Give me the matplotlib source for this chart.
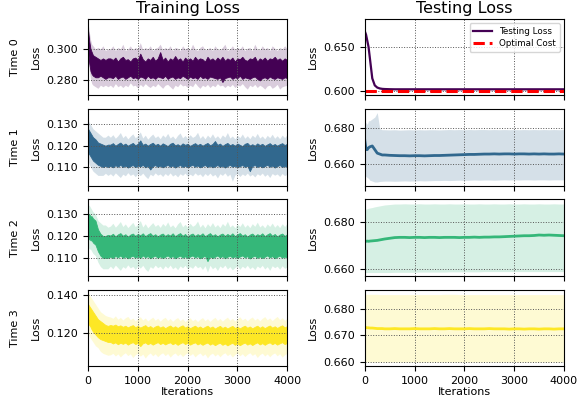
import numpy as np
import matplotlib
matplotlib.use("Agg")
import matplotlib.pyplot as plt
from matplotlib.ticker import FormatStrFormatter

# training loss is logged densely, testing loss on a coarser grid
train_iterations = [0, 25, 50, 75, 100, 150, 200, 250, 300, 350, 400,
                    450, 500, 550, 600, 650, 700, 750, 800, 850, 900,
                    950, 1000, 1050, 1100, 1150, 1200, 1250, 1300, 1350, 1400,
                    1450, 1500, 1550, 1600, 1650, 1700, 1750, 1800, 1850, 1900,
                    1950, 2000, 2050, 2100, 2150, 2200, 2250, 2300, 2350, 2400,
                    2450, 2500, 2550, 2600, 2650, 2700, 2750, 2800, 2850, 2900,
                    2950, 3000, 3050, 3100, 3150, 3200, 3250, 3300, 3350, 3400,
                    3450, 3500, 3550, 3600, 3650, 3700, 3750, 3800, 3850, 3900,
                    3950, 4000]
test_iterations = [0, 25, 50, 75, 100, 150, 200, 250, 300, 350, 400,
                   500, 600, 700, 800, 900, 1000, 1100, 1200, 1300, 1400,
                   1500, 1600, 1700, 1800, 1900, 2000, 2100, 2200, 2300, 2400,
                   2500, 2600, 2700, 2800, 2900, 3000, 3100, 3200, 3300, 3400,
                   3500, 3600, 3700, 3800, 3900, 4000]

# training loss: range of the raw per-iteration curve (dark) ...
train_line_hi = [
    [0.312, 0.305, 0.300, 0.298, 0.296, 0.295, 0.294, 0.293, 0.294, 0.293, 0.294,
     0.294, 0.293, 0.2945, 0.292, 0.294, 0.295, 0.293, 0.2935, 0.292, 0.294,
     0.2945, 0.293, 0.297, 0.2935, 0.292, 0.294, 0.293, 0.295, 0.2925, 0.294,
     0.298, 0.293, 0.2945, 0.292, 0.294, 0.293, 0.2955, 0.293, 0.294, 0.292,
     0.2945, 0.293, 0.294, 0.2925, 0.295, 0.293, 0.294, 0.2935, 0.292, 0.295,
     0.293, 0.294, 0.2925, 0.2945, 0.293, 0.295, 0.2925, 0.294, 0.293, 0.2945,
     0.292, 0.294, 0.2935, 0.295, 0.293, 0.2925, 0.294, 0.2935, 0.295, 0.292,
     0.294, 0.293, 0.2945, 0.2925, 0.294, 0.2935, 0.295, 0.293, 0.294, 0.2925,
     0.294, 0.293],
    [0.128, 0.127, 0.126, 0.125, 0.124, 0.123, 0.1215, 0.121, 0.1205, 0.120, 0.1205,
     0.1205, 0.1212, 0.1200, 0.1208, 0.1215, 0.1203, 0.1210, 0.1200, 0.1207, 0.1213,
     0.1202, 0.1209, 0.1225, 0.1204, 0.1210, 0.1200, 0.1208, 0.1214, 0.1203, 0.1209,
     0.1200, 0.1211, 0.1205, 0.1198, 0.1209, 0.1214, 0.1202, 0.1207, 0.1200, 0.1211,
     0.1204, 0.1209, 0.1199, 0.1206, 0.1212, 0.1203, 0.1209, 0.1200, 0.1207, 0.1213,
     0.1202, 0.1208, 0.1222, 0.1204, 0.1210, 0.1199, 0.1207, 0.1213, 0.1202, 0.1208,
     0.1200, 0.1210, 0.1204, 0.1198, 0.1209, 0.1213, 0.1201, 0.1207, 0.1200, 0.1211,
     0.1203, 0.1209, 0.1199, 0.1206, 0.1212, 0.1202, 0.1208, 0.1200, 0.1207, 0.1212,
     0.1203, 0.1209],
    [0.130, 0.130, 0.129, 0.129, 0.128, 0.127, 0.123, 0.121, 0.120, 0.120, 0.1205,
     0.1202, 0.1210, 0.1198, 0.1207, 0.1213, 0.1201, 0.1208, 0.1197, 0.1206, 0.1211,
     0.1200, 0.1209, 0.1203, 0.1212, 0.1199, 0.1207, 0.1213, 0.1201, 0.1208, 0.1198,
     0.1206, 0.1211, 0.1200, 0.1208, 0.1202, 0.1212, 0.1199, 0.1207, 0.1213, 0.1201,
     0.1209, 0.1197, 0.1206, 0.1211, 0.1200, 0.1208, 0.1203, 0.1212, 0.1199, 0.1206,
     0.1213, 0.1201, 0.1208, 0.1198, 0.1206, 0.1211, 0.1200, 0.1209, 0.1202, 0.1212,
     0.1199, 0.1207, 0.1213, 0.1201, 0.1208, 0.1197, 0.1206, 0.1211, 0.1200, 0.1208,
     0.1203, 0.1212, 0.1199, 0.1207, 0.1213, 0.1201, 0.1209, 0.1198, 0.1206, 0.1211,
     0.1200, 0.1208],
    [0.135, 0.134, 0.133, 0.132, 0.131, 0.129, 0.127, 0.126, 0.125, 0.124, 0.1235,
     0.1240, 0.1236, 0.1242, 0.1233, 0.1238, 0.1230, 0.1236, 0.1227, 0.1234, 0.1239,
     0.1228, 0.1235, 0.1226, 0.1233, 0.1239, 0.1227, 0.1234, 0.1224, 0.1232, 0.1237,
     0.1226, 0.1233, 0.1223, 0.1231, 0.1237, 0.1226, 0.1233, 0.1224, 0.1232, 0.1238,
     0.1226, 0.1233, 0.1223, 0.1230, 0.1236, 0.1225, 0.1232, 0.1222, 0.1230, 0.1236,
     0.1225, 0.1232, 0.1221, 0.1229, 0.1235, 0.1224, 0.1231, 0.1221, 0.1229, 0.1235,
     0.1224, 0.1231, 0.1222, 0.1230, 0.1236, 0.1225, 0.1232, 0.1222, 0.1230, 0.1236,
     0.1225, 0.1233, 0.1223, 0.1231, 0.1237, 0.1226, 0.1233, 0.1224, 0.1232, 0.1238,
     0.1227, 0.1234],
]
train_line_lo = [
    [0.300, 0.291, 0.286, 0.284, 0.283, 0.282, 0.282, 0.283, 0.282, 0.281, 0.282,
     0.282, 0.2815, 0.283, 0.281, 0.282, 0.2825, 0.281, 0.282, 0.283, 0.2815,
     0.282, 0.281, 0.2825, 0.282, 0.281, 0.283, 0.2815, 0.282, 0.281, 0.2825,
     0.282, 0.2815, 0.283, 0.281, 0.282, 0.2825, 0.281, 0.282, 0.2815, 0.283,
     0.282, 0.281, 0.2825, 0.2815, 0.282, 0.281, 0.283, 0.2815, 0.282, 0.281,
     0.2825, 0.282, 0.2815, 0.281, 0.282, 0.279, 0.2815, 0.282, 0.2825, 0.281,
     0.282, 0.2815, 0.283, 0.281, 0.282, 0.2815, 0.281, 0.282, 0.2825, 0.281,
     0.280, 0.2815, 0.282, 0.281, 0.2825, 0.2815, 0.281, 0.282, 0.2815, 0.281,
     0.282, 0.2815],
    [0.117, 0.116, 0.115, 0.114, 0.113, 0.112, 0.111, 0.1105, 0.110, 0.1105, 0.110,
     0.1105, 0.1098, 0.1108, 0.1101, 0.1110, 0.1100, 0.1106, 0.1097, 0.1104, 0.1109,
     0.1099, 0.1106, 0.1102, 0.1110, 0.1098, 0.1105, 0.1088, 0.1103, 0.1109, 0.1100,
     0.1106, 0.1098, 0.1104, 0.1110, 0.1101, 0.1107, 0.1097, 0.1104, 0.1109, 0.1100,
     0.1106, 0.1099, 0.1105, 0.1110, 0.1101, 0.1107, 0.1098, 0.1104, 0.1109, 0.1100,
     0.1106, 0.1098, 0.1103, 0.1109, 0.1100, 0.1106, 0.1097, 0.1104, 0.1110, 0.1101,
     0.1106, 0.1098, 0.1104, 0.1109, 0.1100, 0.1106, 0.1080, 0.1104, 0.1109, 0.1100,
     0.1106, 0.1098, 0.1104, 0.1110, 0.1101, 0.1106, 0.1097, 0.1104, 0.1109, 0.1100,
     0.1105, 0.1099],
    [0.118, 0.119, 0.118, 0.118, 0.117, 0.116, 0.113, 0.111, 0.110, 0.110, 0.110,
     0.1106, 0.1099, 0.1109, 0.1102, 0.1111, 0.1100, 0.1107, 0.1098, 0.1105, 0.1110,
     0.1101, 0.1107, 0.1099, 0.1111, 0.1103, 0.1108, 0.1098, 0.1105, 0.1110, 0.1100,
     0.1107, 0.1099, 0.1105, 0.1111, 0.1102, 0.1108, 0.1098, 0.1105, 0.1110, 0.1101,
     0.1107, 0.1099, 0.1106, 0.1111, 0.1102, 0.1108, 0.1098, 0.1104, 0.1110, 0.1085,
     0.1107, 0.1099, 0.1105, 0.1111, 0.1102, 0.1108, 0.1098, 0.1105, 0.1110, 0.1101,
     0.1107, 0.1099, 0.1106, 0.1111, 0.1102, 0.1108, 0.1097, 0.1105, 0.1110, 0.1100,
     0.1107, 0.1099, 0.1105, 0.1111, 0.1102, 0.1108, 0.1098, 0.1105, 0.1110, 0.1101,
     0.1106, 0.1100],
    [0.125, 0.124, 0.123, 0.1215, 0.1205, 0.119, 0.1175, 0.1165, 0.116, 0.1155, 0.115,
     0.1150, 0.1142, 0.1148, 0.1138, 0.1146, 0.1140, 0.1147, 0.1136, 0.1144, 0.1149,
     0.1139, 0.1145, 0.1128, 0.1143, 0.1148, 0.1138, 0.1145, 0.1136, 0.1143, 0.1149,
     0.1139, 0.1146, 0.1137, 0.1144, 0.1148, 0.1138, 0.1145, 0.1135, 0.1143, 0.1149,
     0.1139, 0.1146, 0.1136, 0.1143, 0.1148, 0.1137, 0.1144, 0.1135, 0.1142, 0.1147,
     0.1136, 0.1143, 0.1133, 0.1141, 0.1146, 0.1135, 0.1142, 0.1132, 0.1140, 0.1146,
     0.1135, 0.1142, 0.1133, 0.1141, 0.1147, 0.1136, 0.1143, 0.1134, 0.1142, 0.1148,
     0.1137, 0.1144, 0.1135, 0.1143, 0.1148, 0.1138, 0.1145, 0.1136, 0.1143, 0.1149,
     0.1139, 0.1145],
]
# ... and the spread band across runs (light)
train_band_hi = [
    [0.317, 0.311, 0.306, 0.303, 0.302, 0.300, 0.301, 0.300, 0.302, 0.299, 0.300,
     0.300, 0.302, 0.299, 0.301, 0.300, 0.303, 0.299, 0.300, 0.302, 0.2995,
     0.301, 0.300, 0.304, 0.2995, 0.301, 0.300, 0.302, 0.299, 0.3005, 0.301,
     0.303, 0.2995, 0.301, 0.300, 0.302, 0.299, 0.301, 0.3005, 0.299, 0.302,
     0.300, 0.301, 0.2995, 0.303, 0.300, 0.299, 0.301, 0.302, 0.2995, 0.300,
     0.301, 0.299, 0.302, 0.300, 0.2995, 0.301, 0.303, 0.299, 0.300, 0.302,
     0.2995, 0.301, 0.300, 0.302, 0.299, 0.3005, 0.301, 0.299, 0.303, 0.300,
     0.2995, 0.302, 0.300, 0.301, 0.299, 0.302, 0.3005, 0.299, 0.301, 0.300,
     0.302, 0.300],
    [0.132, 0.131, 0.130, 0.129, 0.128, 0.127, 0.126, 0.125, 0.124, 0.124, 0.125,
     0.1240, 0.1252, 0.1235, 0.1247, 0.1262, 0.1238, 0.1249, 0.1232, 0.1245, 0.1256,
     0.1237, 0.1248, 0.1265, 0.1236, 0.1250, 0.1231, 0.1244, 0.1255, 0.1238, 0.1247,
     0.1233, 0.1251, 0.1240, 0.1258, 0.1236, 0.1246, 0.1232, 0.1249, 0.1260, 0.1237,
     0.1248, 0.1234, 0.1252, 0.1239, 0.1246, 0.1263, 0.1235, 0.1248, 0.1232, 0.1250,
     0.1238, 0.1256, 0.1236, 0.1247, 0.1233, 0.1251, 0.1240, 0.1262, 0.1236, 0.1246,
     0.1232, 0.1249, 0.1238, 0.1255, 0.1235, 0.1247, 0.1233, 0.1250, 0.1239, 0.1258,
     0.1236, 0.1246, 0.1232, 0.1249, 0.1238, 0.1254, 0.1235, 0.1247, 0.1233, 0.1250,
     0.1238, 0.1252],
    [0.134, 0.134, 0.133, 0.132, 0.131, 0.130, 0.127, 0.126, 0.125, 0.125, 0.124,
     0.1245, 0.1258, 0.1240, 0.1252, 0.1266, 0.1243, 0.1255, 0.1238, 0.1250, 0.1262,
     0.1242, 0.1254, 0.1270, 0.1241, 0.1256, 0.1237, 0.1249, 0.1261, 0.1244, 0.1253,
     0.1239, 0.1257, 0.1245, 0.1264, 0.1241, 0.1251, 0.1237, 0.1255, 0.1266, 0.1242,
     0.1253, 0.1239, 0.1258, 0.1244, 0.1251, 0.1268, 0.1240, 0.1254, 0.1237, 0.1256,
     0.1243, 0.1261, 0.1241, 0.1252, 0.1238, 0.1257, 0.1245, 0.1267, 0.1241, 0.1251,
     0.1237, 0.1255, 0.1243, 0.1260, 0.1240, 0.1252, 0.1238, 0.1256, 0.1244, 0.1263,
     0.1241, 0.1251, 0.1237, 0.1255, 0.1243, 0.1259, 0.1240, 0.1252, 0.1238, 0.1256,
     0.1243, 0.1258],
    [0.142, 0.140, 0.139, 0.138, 0.137, 0.135, 0.133, 0.131, 0.130, 0.129, 0.1285,
     0.1282, 0.1275, 0.1288, 0.1270, 0.1280, 0.1266, 0.1278, 0.1285, 0.1268, 0.1276,
     0.1262, 0.1274, 0.1283, 0.1266, 0.1277, 0.1261, 0.1272, 0.1281, 0.1265, 0.1275,
     0.1260, 0.1273, 0.1280, 0.1264, 0.1274, 0.1259, 0.1271, 0.1279, 0.1263, 0.1273,
     0.1258, 0.1270, 0.1278, 0.1262, 0.1272, 0.1258, 0.1270, 0.1279, 0.1263, 0.1273,
     0.1259, 0.1271, 0.1280, 0.1264, 0.1274, 0.1260, 0.1272, 0.1281, 0.1265, 0.1275,
     0.1261, 0.1273, 0.1283, 0.1266, 0.1276, 0.1262, 0.1274, 0.1282, 0.1266, 0.1276,
     0.1262, 0.1275, 0.1284, 0.1267, 0.1277, 0.1263, 0.1275, 0.1285, 0.1268, 0.1278,
     0.1264, 0.1276],
]
train_band_lo = [
    [0.296, 0.287, 0.281, 0.278, 0.277, 0.276, 0.275, 0.277, 0.276, 0.277, 0.276,
     0.277, 0.2755, 0.278, 0.276, 0.277, 0.2755, 0.277, 0.276, 0.2785, 0.2765,
     0.277, 0.275, 0.2775, 0.276, 0.278, 0.2765, 0.2755, 0.277, 0.276, 0.278,
     0.2765, 0.275, 0.277, 0.2775, 0.276, 0.2745, 0.277, 0.276, 0.278, 0.2765,
     0.277, 0.2755, 0.277, 0.276, 0.2785, 0.2765, 0.275, 0.277, 0.276, 0.2775,
     0.2755, 0.277, 0.276, 0.278, 0.2765, 0.277, 0.2755, 0.277, 0.276, 0.2775,
     0.2755, 0.277, 0.2765, 0.278, 0.276, 0.2745, 0.277, 0.276, 0.2775, 0.2755,
     0.277, 0.276, 0.2745, 0.2765, 0.277, 0.275, 0.276, 0.2775, 0.2745, 0.276,
     0.2765, 0.277],
    [0.113, 0.111, 0.110, 0.109, 0.108, 0.107, 0.106, 0.106, 0.106, 0.107, 0.106,
     0.1068, 0.1057, 0.1072, 0.1061, 0.1050, 0.1066, 0.1058, 0.1073, 0.1060, 0.1067,
     0.1054, 0.1069, 0.1059, 0.1071, 0.1056, 0.1045, 0.1066, 0.1058, 0.1072, 0.1061,
     0.1067, 0.1055, 0.1069, 0.1059, 0.1072, 0.1057, 0.1065, 0.1053, 0.1068, 0.1060,
     0.1071, 0.1056, 0.1066, 0.1058, 0.1072, 0.1061, 0.1067, 0.1054, 0.1069, 0.1059,
     0.1071, 0.1057, 0.1065, 0.1048, 0.1068, 0.1060, 0.1072, 0.1056, 0.1066, 0.1032,
     0.1062, 0.1069, 0.1055, 0.1067, 0.1059, 0.1071, 0.1057, 0.1065, 0.1053, 0.1068,
     0.1060, 0.1071, 0.1056, 0.1066, 0.1050, 0.1069, 0.1061, 0.1067, 0.1055, 0.1069,
     0.1059, 0.1066],
    [0.115, 0.114, 0.114, 0.113, 0.112, 0.111, 0.108, 0.106, 0.105, 0.105, 0.105,
     0.1062, 0.1050, 0.1067, 0.1055, 0.1043, 0.1060, 0.1052, 0.1068, 0.1054, 0.1061,
     0.1047, 0.1064, 0.1053, 0.1066, 0.1049, 0.1038, 0.1060, 0.1052, 0.1067, 0.1055,
     0.1062, 0.1048, 0.1064, 0.1053, 0.1067, 0.1050, 0.1059, 0.1046, 0.1063, 0.1054,
     0.1066, 0.1049, 0.1060, 0.1052, 0.1067, 0.1055, 0.1061, 0.1047, 0.1064, 0.1035,
     0.1066, 0.1050, 0.1059, 0.1042, 0.1063, 0.1054, 0.1067, 0.1049, 0.1060, 0.1045,
     0.1056, 0.1064, 0.1048, 0.1062, 0.1053, 0.1066, 0.1050, 0.1059, 0.1046, 0.1063,
     0.1054, 0.1066, 0.1049, 0.1060, 0.1043, 0.1064, 0.1055, 0.1062, 0.1048, 0.1064,
     0.1052, 0.1060],
    [0.120, 0.118, 0.117, 0.116, 0.115, 0.113, 0.112, 0.110, 0.109, 0.1085, 0.108,
     0.1082, 0.1090, 0.1076, 0.1087, 0.1071, 0.1084, 0.1093, 0.1078, 0.1088, 0.1068,
     0.1083, 0.1091, 0.1075, 0.1086, 0.1065, 0.1082, 0.1092, 0.1077, 0.1088, 0.1072,
     0.1085, 0.1093, 0.1078, 0.1089, 0.1070, 0.1084, 0.1092, 0.1077, 0.1088, 0.1073,
     0.1085, 0.1093, 0.1079, 0.1089, 0.1071, 0.1084, 0.1092, 0.1077, 0.1087, 0.1066,
     0.1083, 0.1091, 0.1076, 0.1087, 0.1072, 0.1085, 0.1093, 0.1078, 0.1088, 0.1070,
     0.1084, 0.1092, 0.1077, 0.1088, 0.1073, 0.1085, 0.1093, 0.1079, 0.1088, 0.1068,
     0.1083, 0.1091, 0.1076, 0.1087, 0.1072, 0.1085, 0.1092, 0.1077, 0.1088, 0.1070,
     0.1083, 0.1090],
]

# testing loss: mean curve with its spread band
test_mean = [
    [0.668, 0.664, 0.657, 0.650, 0.638, 0.614, 0.606, 0.6035, 0.6025, 0.602, 0.6018,
     0.6016, 0.6015, 0.6015, 0.6015, 0.6015, 0.6015, 0.6015, 0.6015, 0.6015, 0.6015,
     0.6015, 0.6015, 0.6015, 0.6015, 0.6015, 0.6015, 0.6015, 0.6015, 0.6015, 0.6015,
     0.6015, 0.6015, 0.6015, 0.6015, 0.6015, 0.6015, 0.6015, 0.6015, 0.6015, 0.6015,
     0.6015, 0.6015, 0.6015, 0.6015, 0.6015, 0.6015],
    [0.673, 0.668, 0.668, 0.669, 0.6695, 0.670, 0.668, 0.666, 0.6655, 0.665, 0.665,
     0.6648, 0.6647, 0.6646, 0.6646, 0.6645, 0.6646, 0.6646, 0.6645, 0.6646, 0.6647,
     0.6647, 0.6648, 0.6649, 0.6650, 0.6651, 0.6652, 0.6653, 0.6653, 0.6654, 0.6655,
     0.6655, 0.6656, 0.6655, 0.6656, 0.6656, 0.6655, 0.6656, 0.6656, 0.6655, 0.6656,
     0.6655, 0.6656, 0.6655, 0.6655, 0.6656, 0.6655],
    [0.6718, 0.6718, 0.6719, 0.6718, 0.6719, 0.6720, 0.6721, 0.6722, 0.6724, 0.6726, 0.6728,
     0.6731, 0.6734, 0.6735, 0.6735, 0.6734, 0.6735, 0.6735, 0.6734, 0.6735, 0.6735,
     0.6734, 0.6735, 0.6735, 0.6735, 0.6734, 0.6735, 0.6735, 0.6736, 0.6735, 0.6736,
     0.6736, 0.6737, 0.6737, 0.6738, 0.6739, 0.6740, 0.6741, 0.6742, 0.6742, 0.6743,
     0.6745, 0.6744, 0.6745, 0.6744, 0.6743, 0.6742],
    [0.6731, 0.6730, 0.6729, 0.6729, 0.6728, 0.6728, 0.6727, 0.6726, 0.6726, 0.6726, 0.6725,
     0.6725, 0.6726, 0.6725, 0.6725, 0.6725, 0.6726, 0.6725, 0.6725, 0.6725, 0.6726,
     0.6725, 0.6725, 0.6726, 0.6725, 0.6725, 0.6725, 0.6726, 0.6725, 0.6725, 0.6725,
     0.6726, 0.6725, 0.6725, 0.6725, 0.6724, 0.6725, 0.6725, 0.6724, 0.6725, 0.6725,
     0.6724, 0.6725, 0.6725, 0.6724, 0.6725, 0.6725],
]
test_band_hi = [
    [0.6685, 0.6645, 0.6575, 0.6505, 0.6385, 0.6145, 0.6065, 0.6040, 0.6030, 0.6025, 0.6023,
     0.6021, 0.6020, 0.6020, 0.6020, 0.6020, 0.6020, 0.6020, 0.6020, 0.6020, 0.6020,
     0.6020, 0.6020, 0.6020, 0.6020, 0.6020, 0.6020, 0.6020, 0.6020, 0.6020, 0.6020,
     0.6020, 0.6020, 0.6020, 0.6020, 0.6020, 0.6020, 0.6020, 0.6020, 0.6020, 0.6020,
     0.6020, 0.6020, 0.6020, 0.6020, 0.6020, 0.6020],
    [0.682, 0.683, 0.682, 0.684, 0.684, 0.685, 0.686, 0.6885, 0.6795, 0.679, 0.679,
     0.6789, 0.6790, 0.6788, 0.6789, 0.6790, 0.6789, 0.6790, 0.6789, 0.6790, 0.6790,
     0.6789, 0.6790, 0.6791, 0.6790, 0.6791, 0.6790, 0.6791, 0.6790, 0.6791, 0.6791,
     0.6790, 0.6791, 0.6790, 0.6791, 0.6790, 0.6791, 0.6790, 0.6791, 0.6790, 0.6791,
     0.6790, 0.6791, 0.6790, 0.6791, 0.6790, 0.6791],
    [0.6855, 0.6856, 0.6858, 0.6860, 0.6861, 0.6863, 0.6866, 0.6868, 0.6870, 0.6872, 0.6874,
     0.6876, 0.6878, 0.6878, 0.6879, 0.6878, 0.6878, 0.6879, 0.6878, 0.6878, 0.6879,
     0.6878, 0.6878, 0.6879, 0.6878, 0.6878, 0.6879, 0.6878, 0.6878, 0.6879, 0.6878,
     0.6878, 0.6879, 0.6878, 0.6878, 0.6879, 0.6878, 0.6878, 0.6879, 0.6878, 0.6878,
     0.6879, 0.6878, 0.6878, 0.6879, 0.6878, 0.6878],
    [0.6856, 0.6856, 0.6856, 0.6856, 0.6856, 0.6856, 0.6856, 0.6856, 0.6855, 0.6855, 0.6855,
     0.6855, 0.6855, 0.6855, 0.6855, 0.6855, 0.6855, 0.6855, 0.6855, 0.6855, 0.6855,
     0.6855, 0.6856, 0.6856, 0.6856, 0.6855, 0.6855, 0.6855, 0.6855, 0.6855, 0.6855,
     0.6855, 0.6855, 0.6855, 0.6855, 0.6855, 0.6855, 0.6855, 0.6855, 0.6855, 0.6855,
     0.6855, 0.6855, 0.6855, 0.6855, 0.6855, 0.6855],
]
test_band_lo = [
    [0.6675, 0.6635, 0.6565, 0.6495, 0.6375, 0.6135, 0.6055, 0.6030, 0.6020, 0.6015, 0.6013,
     0.6011, 0.6010, 0.6010, 0.6010, 0.6010, 0.6010, 0.6010, 0.6010, 0.6010, 0.6010,
     0.6010, 0.6010, 0.6010, 0.6010, 0.6010, 0.6010, 0.6010, 0.6010, 0.6010, 0.6010,
     0.6010, 0.6010, 0.6010, 0.6010, 0.6010, 0.6010, 0.6010, 0.6010, 0.6010, 0.6010,
     0.6010, 0.6010, 0.6010, 0.6010, 0.6010, 0.6010],
    [0.6535, 0.6530, 0.6525, 0.6520, 0.6510, 0.6505, 0.6500, 0.6500, 0.6503, 0.6504, 0.6505,
     0.6505, 0.6504, 0.6505, 0.6506, 0.6505, 0.6506, 0.6507, 0.6506, 0.6507, 0.6508,
     0.6508, 0.6509, 0.6508, 0.6509, 0.6510, 0.6509, 0.6510, 0.6511, 0.6510, 0.6511,
     0.6511, 0.6510, 0.6511, 0.6512, 0.6511, 0.6512, 0.6511, 0.6512, 0.6512, 0.6511,
     0.6512, 0.6512, 0.6511, 0.6512, 0.6512, 0.6512],
    [0.6584, 0.6584, 0.6584, 0.6584, 0.6584, 0.6584, 0.6584, 0.6584, 0.6584, 0.6584, 0.6584,
     0.6584, 0.6585, 0.6585, 0.6585, 0.6585, 0.6585, 0.6586, 0.6586, 0.6586, 0.6586,
     0.6586, 0.6586, 0.6587, 0.6587, 0.6587, 0.6587, 0.6587, 0.6587, 0.6587, 0.6588,
     0.6588, 0.6588, 0.6588, 0.6588, 0.6588, 0.6588, 0.6588, 0.6588, 0.6588, 0.6588,
     0.6588, 0.6588, 0.6588, 0.6588, 0.6588, 0.6588],
    [0.6599, 0.6599, 0.6599, 0.6599, 0.6599, 0.6599, 0.6599, 0.6599, 0.6599, 0.6599, 0.6599,
     0.6599, 0.6599, 0.6599, 0.6599, 0.6599, 0.6599, 0.6599, 0.6599, 0.6599, 0.6599,
     0.6599, 0.6599, 0.6599, 0.6599, 0.6599, 0.6599, 0.6599, 0.6599, 0.6599, 0.6599,
     0.6599, 0.6599, 0.6599, 0.6599, 0.6599, 0.6599, 0.6599, 0.6599, 0.6599, 0.6599,
     0.6599, 0.6599, 0.6599, 0.6599, 0.6599, 0.6599],
]
optimal_cost = 0.600

row_labels = ["Time 0", "Time 1", "Time 2", "Time 3"]
train_ylims = [(0.2705, 0.319), (0.1012, 0.1372), (0.1018, 0.1367), (0.1023, 0.1427)]
test_ylims = [(0.5945, 0.682), (0.648, 0.6904), (0.657, 0.6898), (0.6584, 0.6874)]
train_yticks = [[0.280, 0.300], [0.110, 0.120, 0.130], [0.110, 0.120, 0.130], [0.120, 0.140]]
test_yticks = [[0.600, 0.650], [0.660, 0.680], [0.660, 0.680], [0.660, 0.670, 0.680]]

colors = plt.cm.viridis(np.linspace(0, 1, 4))

fig, axes = plt.subplots(4, 2, figsize=(5.82, 4.03), dpi=100, sharex=True)
fig.subplots_adjust(left=0.1512, right=0.969, top=0.9529, bottom=0.0918,
                    wspace=0.39, hspace=0.18)

for i in range(4):
    c = colors[i]
    ax = axes[i, 0]
    ax.fill_between(train_iterations, train_band_lo[i], train_band_hi[i],
                    color=c, alpha=0.2, lw=0)
    ax.fill_between(train_iterations, train_line_lo[i], train_line_hi[i],
                    color=c, edgecolor=c, lw=0.6)
    ax.set_ylim(*train_ylims[i])
    ax.set_yticks(train_yticks[i])

    ax2 = axes[i, 1]
    ax2.fill_between(test_iterations, test_band_lo[i], test_band_hi[i],
                     color=c, alpha=0.2, lw=0)
    ax2.plot(test_iterations, test_mean[i], color=c, lw=1.6 if i == 0 else 2,
             label="Testing Loss")
    if i == 0:
        ax2.axhline(optimal_cost, color="red", ls="--", lw=2.2, label="Optimal Cost")
        ax2.legend(loc="upper right", fontsize=6.3, handlelength=2.2,
                   borderpad=0.4, labelspacing=0.4)
    ax2.set_ylim(*test_ylims[i])
    ax2.set_yticks(test_yticks[i])

    for a in (ax, ax2):
        a.set_xlim(0, 4000)
        a.set_xticks([0, 1000, 2000, 3000, 4000])
        a.grid(True, ls=":", color="#555555", lw=0.7)
        a.set_ylabel("Loss", fontsize=8)
        a.tick_params(labelsize=8)
        a.yaxis.set_major_formatter(FormatStrFormatter("%.3f"))

    pos = ax.get_position()
    fig.text(15 / 582, (pos.y0 + pos.y1) / 2, row_labels[i], rotation=90,
             ha="center", va="center", fontsize=8)

axes[0, 0].set_title("Training Loss", fontsize=11.5, pad=4)
axes[0, 1].set_title("Testing Loss", fontsize=11.5, pad=4)
axes[3, 0].set_xlabel("Iterations", fontsize=8, labelpad=1)
axes[3, 1].set_xlabel("Iterations", fontsize=8, labelpad=1)

fig.savefig("out.png", dpi=100)
